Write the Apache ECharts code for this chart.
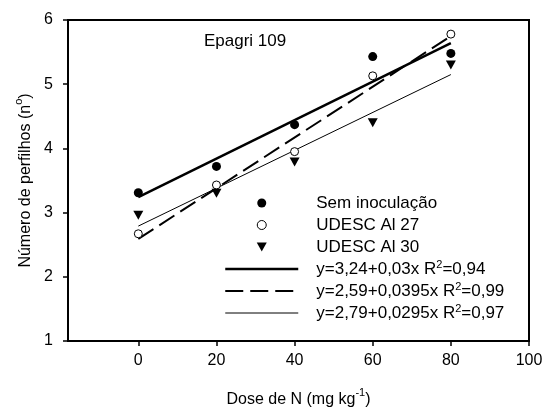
<!DOCTYPE html>
<html>
<head>
<meta charset="utf-8">
<script src="https://cdn.jsdelivr.net/npm/echarts@6/dist/echarts.min.js"></script>
<style>
html, body { margin: 0; padding: 0; background: #fff; }
#chart { width: 545px; height: 412px; }
</style>
</head>
<body>
<div id="chart"></div>
<script>
// valores
const doses = [0, 20, 40, 60, 80];
const semInoculacao = [3.31, 3.72, 4.37, 5.43, 5.48];
const udescAl27 = [2.67, 3.43, 3.95, 5.13, 5.78];
const udescAl30 = [2.96, 3.30, 3.79, 4.40, 5.30];

// retas de regressão (extremos em x = 0 e x = 80)
const fitX = [0, 80];
const fitSem = [3.24, 5.64];
const fitAl27 = [2.59, 5.75];
const fitAl30 = [2.79, 5.15];

const xTicks = [0, 20, 40, 60, 80, 100];
const names = [
  'Sem inoculação',
  'UDESC Al 27',
  'UDESC Al 30',
  'y=3,24+0,03x R²=0,94',
  'y=2,59+0,0395x R²=0,99',
  'y=2,79+0,0295x R²=0,97'
];
const fitWidths = [2.5, 2, 1];
const fitDash = ['solid', [18, 7], 'solid'];

const FONT = 'Liberation Sans, Arial, sans-serif';
const zip = (xs, ys) => xs.map((x, i) => [x, ys[i]]);
const supStyle = { fontSize: 11, fontFamily: FONT, color: '#000', verticalAlign: 'top', lineHeight: 20 };
const supName = { fontSize: 11, fontFamily: FONT, color: '#000', verticalAlign: 'top', lineHeight: 26 };

const chart = echarts.init(document.getElementById('chart'));

const legendData = names.map((n, i) => {
  if (i === 1) return { name: n, itemStyle: { borderWidth: 1 } };
  if (i < 3) return { name: n };
  return {
    name: n,
    itemStyle: { opacity: 0 },
    lineStyle: { color: '#000', width: fitWidths[i - 3], type: fitDash[i - 3], opacity: 1 }
  };
});

const option = {
  animation: false,
  title: {
    text: 'Epagri 109',
    left: 204,
    top: 33,
    padding: 0,
    textStyle: { fontSize: 17, fontWeight: 'normal', color: '#000', fontFamily: FONT }
  },
  legend: {
    orient: 'vertical',
    left: 224,
    top: 193,
    padding: 0,
    itemWidth: 73,
    itemHeight: 9,
    itemGap: 2,
    selectedMode: false,
    data: legendData,
    formatter: name => name.replace('²', '{sup|2}'),
    textStyle: {
      fontSize: 17,
      color: '#000',
      fontFamily: FONT,
      lineHeight: 20,
      padding: [0, 0, 0, 13],
      rich: { sup: supStyle }
    }
  },
  grid: {
    left: 68,
    right: 16,
    top: 20,
    bottom: 71,
    outerBoundsMode: 'none',
    show: true,
    borderColor: '#000',
    borderWidth: 2
  },
  xAxis: {
    type: 'value',
    min: -18,
    max: 100,
    splitLine: { show: false },
    axisLine: { onZero: false, lineStyle: { color: '#000', width: 2 } },
    axisTick: { customValues: xTicks, length: 5, lineStyle: { color: '#000', width: 1.5 } },
    axisLabel: { customValues: xTicks, margin: 12, fontSize: 16, color: '#000', fontFamily: FONT },
    name: 'Dose de N (mg kg{sup|-1})',
    nameLocation: 'middle',
    nameGap: 46,
    nameMoveOverlap: false,
    nameTextStyle: {
      fontSize: 16, color: '#000', fontFamily: FONT, lineHeight: 26,
      rich: { sup: supName }
    }
  },
  yAxis: {
    type: 'value',
    min: 1,
    max: 6,
    interval: 1,
    splitLine: { show: false },
    axisLine: { onZero: false, lineStyle: { color: '#000', width: 2 } },
    axisTick: { length: 5, lineStyle: { color: '#000', width: 1.5 } },
    axisLabel: { margin: 15, fontSize: 16, color: '#000', fontFamily: FONT },
    name: 'Número de perfilhos (n{sup|o})',
    nameLocation: 'middle',
    nameGap: 29,
    nameMoveOverlap: false,
    nameTextStyle: {
      fontSize: 16, color: '#000', fontFamily: FONT, lineHeight: 26,
      rich: { sup: supName }
    }
  },
  series: [
    {
      name: names[0], type: 'scatter', z: 5,
      symbol: 'circle', symbolSize: 9,
      itemStyle: { color: '#000', opacity: 1 },
      data: zip(doses, semInoculacao)
    },
    {
      name: names[1], type: 'scatter', z: 5,
      symbol: 'circle', symbolSize: 8,
      itemStyle: { color: '#fff', borderColor: '#000', borderWidth: 1, opacity: 1 },
      data: zip(doses, udescAl27)
    },
    {
      name: names[2], type: 'scatter', z: 5,
      symbol: 'path://M0,0L10,0L5,9Z', symbolSize: [10, 9],
      itemStyle: { color: '#000', opacity: 1 },
      data: zip(doses, udescAl30)
    },
    {
      name: names[3], type: 'line', z: 3, symbol: 'none',
      itemStyle: { color: '#000' },
      lineStyle: { color: '#000', width: fitWidths[0], type: fitDash[0] },
      data: zip(fitX, fitSem)
    },
    {
      name: names[4], type: 'line', z: 3, symbol: 'none',
      itemStyle: { color: '#000' },
      lineStyle: { color: '#000', width: fitWidths[1], type: fitDash[1] },
      data: zip(fitX, fitAl27)
    },
    {
      name: names[5], type: 'line', z: 3, symbol: 'none',
      itemStyle: { color: '#000' },
      lineStyle: { color: '#000', width: fitWidths[2], type: fitDash[2] },
      data: zip(fitX, fitAl30)
    }
  ]
};

chart.setOption(option);
</script>
</body>
</html>
